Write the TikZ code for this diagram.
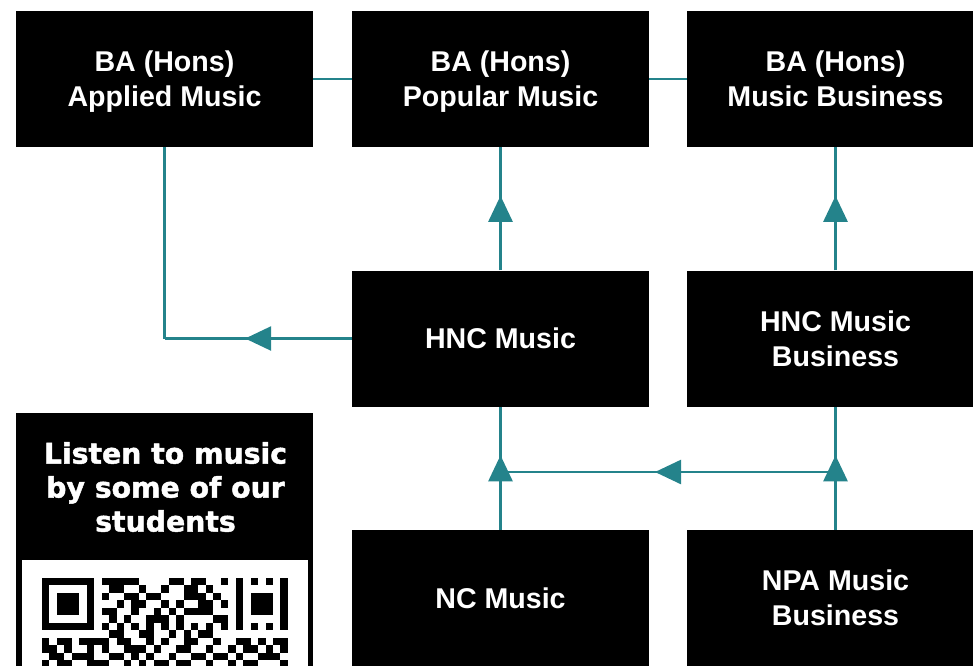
\documentclass[tikz,border=0pt]{standalone}
\usepackage{fontspec}
\setmainfont{Liberation Sans}
\newfontfamily\heavyfont{DejaVu Sans}[BoldFeatures={FakeBold=1.6}]
\usetikzlibrary{arrows.meta,decorations.markings}
\definecolor{pathteal}{RGB}{36,131,139}
\tikzset{
  course/.style={fill=black,text=white,inner sep=0pt,minimum width=297pt,minimum height=136pt,
    align=center,text depth=0pt,font=\fontsize{28.6}{35}\selectfont\bfseries},
  link/.style={pathteal,line width=2.5pt},
  flow/.style={link,postaction={decorate},
    decoration={markings,mark=at position 0.5 with {\arrow[xshift=13pt]{Triangle[width=24pt,length=26pt]}}}}
}
\begin{document}
\begin{tikzpicture}[x=1pt,y=-1pt]
  \useasboundingbox (0,0) rectangle (973,665);
  \clip (0,0) rectangle (973,665);
  % courses
  \node[course] (applied)  at (164.5,79)  {BA (Hons)\\Applied Music};
  \node[course] (popular)  at (500.5,79)  {BA (Hons)\\Popular Music};
  \node[course] (business) at (835.5,79)  {BA (Hons)\\Music Business};
  \node[course] (hnc)      at (500.5,338.5) {HNC Music};
  \node[course] (hncb)     at (835.5,338.5) {HNC Music\\Business};
  \node[course] (nc)       at (500.5,598) {NC Music};
  \node[course] (npa)      at (835.5,598) {NPA Music\\Business};
  % links
  \draw[link] (applied.east) -- (popular.west);
  \draw[link] (popular.east) -- (business.west);
  \draw[flow] (hnc.north) -- (popular.south);
  \draw[flow] (hncb.north) -- (business.south);
  \coordinate (bend) at (hnc.west -| applied.south);
  \draw[flow] (hnc.west) -- (bend);
  \draw[link] (bend) -- (applied.south);
  \draw[flow] (nc.north) -- (hnc.south);
  \draw[flow] (npa.north) -- (hncb.south);
  \coordinate (mergeL) at (nc.north |- 0,472);
  \coordinate (mergeR) at (npa.north |- 0,472);
  \draw[flow] (mergeR) -- (mergeL);
  % listen panel
  \fill[black] (16,413) rectangle (313,680);
  \fill[white] (22,560) rectangle (308,680);
  \node[text=white,align=center,inner sep=0pt,
    font=\heavyfont\bfseries\fontsize{28.3}{34}\selectfont] (listen) at (165.5,487)
    {Listen to music\\by some of our\\students};
  % qr code
  \foreach \r/\cl in {
    0/{0,...,6,8,9,10,11,12,17,18,20,21,24,26,...,32},
    1/{0,6,9,10,13,16,19,20,22,26,32},
    2/{0,2,3,4,6,8,11,12,14,15,19,20,21,23,26,28,29,30,32},
    3/{0,2,3,4,6,10,12,13,16,18,21,22,24,26,28,29,30,32},
    4/{0,2,3,4,6,8,9,12,15,17,19,20,21,22,26,28,29,30,32},
    5/{0,6,9,11,14,15,16,18,23,24,26,32},
    6/{0,...,6,8,10,12,14,16,18,20,22,24,26,...,32},
    7/{9,10,13,14,17,19,21,22},
    8/{0,2,3,5,6,7,8,10,11,14,16,19,20,23,26,27,29,31,32},
    9/{0,1,3,6,8,11,12,13,15,18,19,22,25,27,28,30,32},
    10/{1,2,4,5,6,9,10,12,14,17,20,21,23,24,26,29,30,31},
    11/{0,2,3,6,7,8,11,13,15,16,18,19,22,25,27,28,32}}
    \foreach \c in \cl
      \fill[black] ({42+7.45*\c},{578+7.45*\r}) rectangle ++(7.45,7.45);
\end{tikzpicture}
\end{document}
